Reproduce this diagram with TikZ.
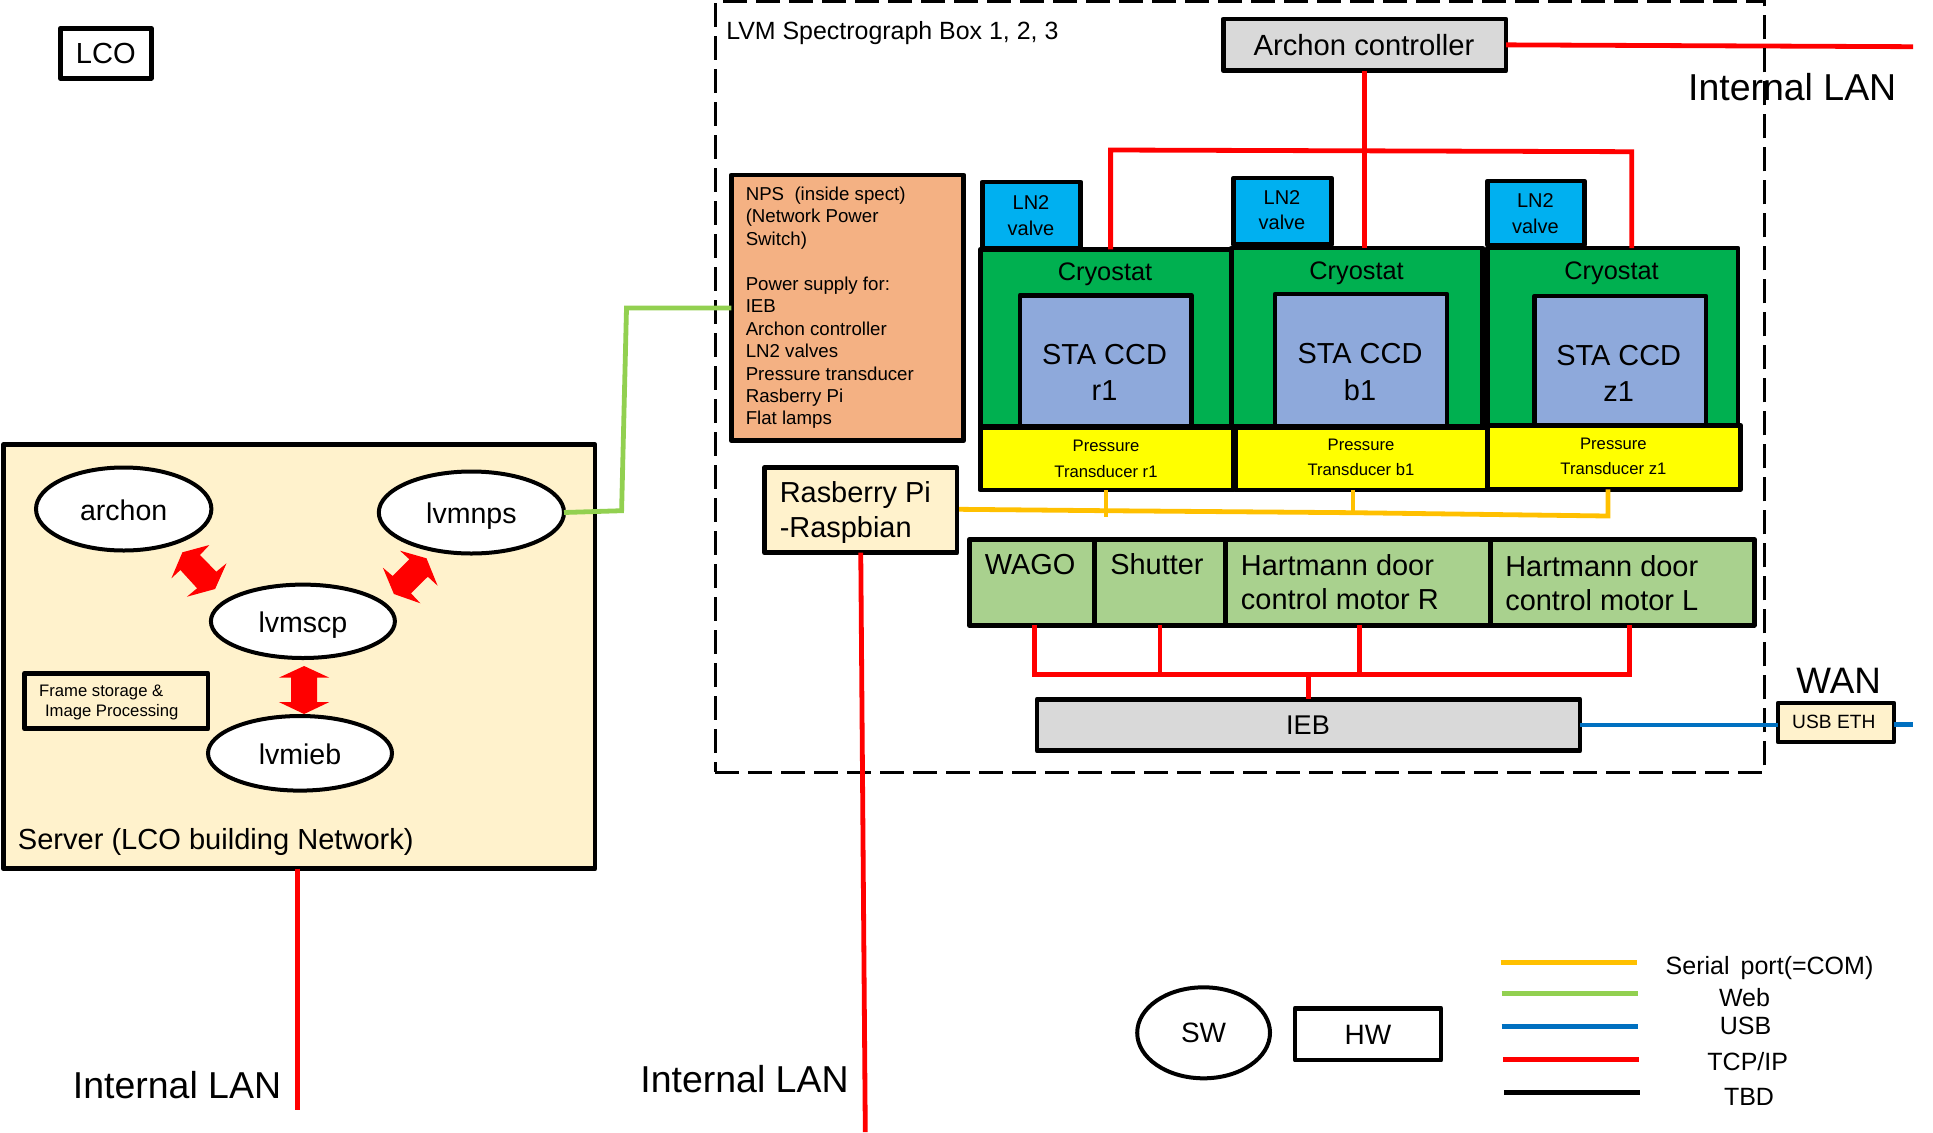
\documentclass[tikz,border=0pt]{standalone}
\usepackage{fontspec}
\setmainfont{Liberation Sans}
\usetikzlibrary{shapes.geometric}
\definecolor{peach}{HTML}{F4B183}
\definecolor{cream}{HTML}{FFF2CC}
\definecolor{lnblue}{HTML}{00B0F0}
\definecolor{cryogreen}{HTML}{00B050}
\definecolor{ccdblue}{HTML}{8EA9DB}
\definecolor{sagegreen}{HTML}{A9D18E}
\definecolor{ctlgrey}{HTML}{D9D9D9}
\definecolor{serialc}{HTML}{FFC000}
\definecolor{webc}{HTML}{92D050}
\definecolor{usbc}{HTML}{0070C0}
\definecolor{tcpc}{HTML}{FF0000}
\definecolor{ptyellow}{HTML}{FFFF00}
\tikzset{
  x=0.75pt,y=-0.75pt,
  hwbox/.style={draw=black,line width=3.6pt,line join=round,inner sep=0pt,outer sep=0pt},
  swell/.style={ellipse,draw=black,line width=3pt,fill=white,inner sep=0pt,outer sep=0pt},
  link/.style={line width=3.6pt},
  serial/.style={link,draw=serialc},
  web/.style={link,draw=webc},
  usb/.style={link,draw=usbc},
  tcp/.style={link,draw=tcpc},
  tbd/.style={link,draw=black},
  bigarrow/.style={fill=tcpc},
  ftxt/.style={node font=\fontsize{#1pt}{#1pt}\selectfont,inner sep=0pt,text height={0.72*#1pt},text depth=0pt},
  eltxt/.style={node font=\fontsize{#1pt}{#1pt}\selectfont,inner sep=0pt,text height={0.72*#1pt+1.5pt},text depth=0pt},
  mtxt/.style 2 args={node font=\fontsize{#1pt}{#2pt}\selectfont,inner sep=0pt},
}
\newcommand{\bx}[7][]{\node[hwbox,fill=#7,minimum width={(#4-#2)*0.75pt},minimum height={(#5-#3)*0.75pt},#1] (#6) at ({(#2+#4)/2},{(#3+#5)/2}) {};}
\begin{document}
\begin{tikzpicture}
\useasboundingbox (0,0) rectangle (1933,1132);
% LCO
\node[hwbox,fill=white,minimum width={91*0.75pt},minimum height={50*0.75pt},ftxt=21.8] (lco) at (105.8,53.3) {LCO};
% Server
\bx{3.3}{444.7}{595}{868.7}{server}{cream}
\node[ftxt=21.8,anchor=west] (servertxt) at (17.6,839.3) {Server (LCO building Network)};
\node[swell,minimum width={175.4*0.75pt},minimum height={83*0.75pt},eltxt=21.4] (archon) at (123.7,509) {archon};
\node[swell,minimum width={185.2*0.75pt},minimum height={82*0.75pt},eltxt=21.4] (lvmnps) at (471.4,512.5) {lvmnps};
\node[swell,minimum width={184*0.75pt},minimum height={73.4*0.75pt},eltxt=21.4] (lvmscp) at (302.9,621.3) {lvmscp};
\node[swell,minimum width={184*0.75pt},minimum height={74.6*0.75pt},eltxt=21.4] (lvmieb) at (300,753.3) {lvmieb};
\bx{24.5}{673.3}{208}{728.7}{frame}{cream}
\node[mtxt={12.5}{15},align=left,anchor=west] (frametxt) at (38.9,702.7) {Frame storage \&\\\hspace*{4.4pt}Image Processing};
% big red arrows
\fill[bigarrow] (209.4,545) -- (200,555) -- (216.3,571.7) -- (226.5,563.3) -- (215.1,589) -- (186.9,596.7) -- (197.1,588.3) -- (180.4,570) -- (171.4,578.3) -- (182.4,552.3) -- cycle;
\fill[bigarrow] (400,550.7) -- (426.5,558.3) -- (437.6,585.7) -- (427.8,576.7) -- (411,593.3) -- (420.4,603.3) -- (393.9,594) -- (382.9,567.7) -- (392.7,576) -- (409.4,559.3) -- cycle;
\fill[bigarrow] (304.1,666) -- (329.4,677.7) -- (317.1,677.7) -- (317.1,702) -- (329.4,702) -- (304.1,714) -- (278.8,702) -- (291,702) -- (291,677.7) -- (278.8,677.7) -- cycle;
% Archon controller
\bx{1223.3}{19}{1506}{70.7}{archonctl}{ctlgrey}
\node[ftxt=21.9] (archonctltxt) at (1364,44.5) {Archon controller};
\coordinate (lanC) at (1913,46.7);
\draw[tcp] (archonctl.east) -- (lanC);
% Spectrograph box
\node[draw=black,line width=2.4pt,dash pattern=on 18pt off 6.75pt,inner sep=0pt,outer sep=0pt,minimum width={(1764.4-715.3)*0.75pt},minimum height={(772.3-1.3)*0.75pt}] (lvmbox) at ({(715.3+1764.4)/2},{(1.3+772.3)/2}) {};
\node[ftxt=18.7,anchor=west] (lvmtxt) at (726,30.7) {LVM Spectrograph Box 1, 2, 3};
\node[ftxt=28.1,anchor=west] (lanCtxt) at (1687.8,87.5) {Internal LAN};
% NPS
\bx{731.4}{175}{963.7}{440.7}{nps}{peach}
\node[mtxt={14}{16.85},align=left,anchor=north west] (npstxt) at (745.5,186.5) {NPS\ \ (inside spect)\\(Network Power\\Switch)\\[16.85pt]Power supply for:\\IEB\\Archon controller\\LN2 valves\\Pressure transducer\\Rasberry Pi\\Flat lamps};
% Cryostats
\bx{980.4}{249.3}{1231.4}{426.7}{cryoA}{cryogreen}
\bx{1231.4}{248}{1482.8}{426.7}{cryoB}{cryogreen}
\bx{1487.7}{248}{1737.9}{425}{cryoC}{cryogreen}
\node[ftxt=19] (cryoAtxt) at (1105,271) {Cryostat};
\node[ftxt=19] (cryoBtxt) at (1356.5,270.7) {Cryostat};
\node[ftxt=19] (cryoCtxt) at (1611.5,270.7) {Cryostat};
% LN2 valves
\bx{982.4}{182}{1080.8}{248}{lnA}{lnblue}
\bx{1233.5}{178}{1331.4}{244.3}{lnB}{lnblue}
\bx{1487.7}{181}{1584.4}{245}{lnC}{lnblue}
\node[mtxt={15}{19},align=center] (lnAtxt) at (1031,215.5) {LN2\\valve};
\node[mtxt={15}{19},align=center] (lnBtxt) at (1282,210.4) {LN2\\valve};
\node[mtxt={15}{19},align=center] (lnCtxt) at (1535.4,213.7) {LN2\\valve};
% CCDs
\bx{1020}{295.3}{1191.4}{426.7}{ccdA}{ccdblue}
\bx{1275}{294}{1446.9}{426.7}{ccdB}{ccdblue}
\bx{1534.6}{296}{1706}{425}{ccdC}{ccdblue}
\node[mtxt={21.7}{27.3},align=center] (ccdAtxt) at (1104.5,372.5) {STA CCD\\r1};
\node[mtxt={21.7}{27.3},align=center] (ccdBtxt) at (1360,372.2) {STA CCD\\b1};
\node[mtxt={21.7}{27.3},align=center] (ccdCtxt) at (1618.7,373.2) {STA CCD\\z1};
% Pressure transducers
\bx{980.4}{427.7}{1233.5}{490}{ptA}{ptyellow}
\bx{1235.5}{427.7}{1487.7}{490}{ptB}{ptyellow}
\bx{1487.7}{425.3}{1740.7}{489.3}{ptC}{ptyellow}
\node[mtxt={12.5}{19.4},align=center] (ptAtxt) at (1106,458.5) {Pressure\\Transducer r1};
\node[mtxt={12.5}{19.4},align=center] (ptBtxt) at (1361,457.3) {Pressure\\Transducer b1};
\node[mtxt={12.5}{19.4},align=center] (ptCtxt) at (1613.4,456.3) {Pressure\\Transducer z1};
% Rasberry Pi
\bx{764.5}{467.5}{957}{552.7}{rpi}{cream}
\node[mtxt={21.7}{26.3},align=left,anchor=west] (rpitxt) at (779.5,512.5) {Rasberry Pi\\-Raspbian};
% Motors row
\bx{969.4}{539.3}{1094.3}{625.3}{wago}{sagegreen}
\bx{1094.3}{539.3}{1225.7}{625.3}{shutter}{sagegreen}
\bx{1225.7}{539.3}{1490.6}{625.3}{hartR}{sagegreen}
\bx{1490.6}{539.3}{1754.2}{625.3}{hartL}{sagegreen}
\node[ftxt=21.7,anchor=west] (wagotxt) at (984.5,564.5) {WAGO};
\node[ftxt=21.7,anchor=west] (shuttertxt) at (1110,564.5) {Shutter};
\node[mtxt={21.7}{25.9},align=left,anchor=west] (hartRtxt) at (1240.7,582) {Hartmann door\\control motor R};
\node[mtxt={21.7}{25.9},align=left,anchor=west] (hartLtxt) at (1505,583.3) {Hartmann door\\control motor L};
% IEB
\bx{1037}{699.3}{1580}{750.7}{ieb}{ctlgrey}
\node[ftxt=20.3] (iebtxt) at (1308,724.3) {IEB};
% USB ETH
\node[hwbox,fill=cream,minimum width={116*0.75pt},minimum height={39*0.75pt}] (usbeth) at (1836,722.5) {};
\node[ftxt=14.4] (usbethtxt) at (1833.8,721.5) {USB ETH};
\node[ftxt=27.6] (wantxt) at (1838.7,680) {WAN};
% connectors
\coordinate (wanE) at (1912.6,724.3);
\draw[usb] (ieb.east) -- (ieb.east -| usbeth.west);
\draw[usb] (usbeth.east |- wanE) -- (wanE);
% archon TCP tree
\coordinate (busL) at (1110.6,150);
\coordinate (busR) at (1631.8,151.7);
\draw[tcp] (archonctl.south) -- (archonctl.south |- cryoB.north);
\draw[tcp] (busL |- cryoA.north) -- (busL) -- (busR) -- (busR |- cryoC.north);
% IEB TCP tree
\coordinate (iebL) at (1034.3,674.3);
\coordinate (iebR) at (1629.7,674.3);
\coordinate (iebS) at (1160.4,674.3);
\coordinate (iebH) at (1359.6,674.3);
\coordinate (iebM) at (1308.6,674.3);
\draw[tcp] (iebL |- wago.south) -- (iebL) -- (iebR) -- (iebR |- hartL.south);
\draw[tcp] (shutter.south) -- (shutter.south |- iebS);
\draw[tcp] (iebH |- hartR.south) -- (iebH);
\draw[tcp] (iebM) -- (iebM |- ieb.north);
% server / raspberry LAN
\coordinate (lanA) at (297.7,1110);
\coordinate (lanB) at (865.3,1132);
\draw[tcp] (lanA |- server.south) -- (lanA);
\draw[tcp] (rpi.south) -- (lanB);
\node[ftxt=28.1] (lanAtxt) at (177,1085.3) {Internal LAN};
\node[ftxt=28.1] (lanBtxt) at (744.5,1078.7) {Internal LAN};
% web
\coordinate (webA) at (621.6,510.7);
\coordinate (webB) at (626.5,308);
\draw[web] (lvmnps.east) -- (webA) -- (webB) -- (webB -| nps.west);
% serial
\coordinate (serS) at (959.2,509.3);
\coordinate (serA) at (1106,510.7);
\coordinate (serB) at (1353,512.7);
\coordinate (serC) at (1608,516);
\draw[serial] (serS) -- (serA) -- (serB) -- (serC) -- (serC |- ptC.south);
\draw[serial] (serA |- ptA.south) -- (1106,516.7);
\draw[serial] (serB |- ptB.south) -- (serB);
% legend
\node[swell,minimum width={132.8*0.75pt},minimum height={91*0.75pt},ftxt=21] (sw) at (1203.6,1032.8) {SW};
\node[hwbox,fill=white,minimum width={146*0.75pt},minimum height={51.7*0.75pt},ftxt=21] (hw) at (1368,1034.2) {HW};
\coordinate (la1) at (1500.6,962.3); \coordinate (lb1) at (1636.7,962.3);
\coordinate (la2) at (1501.7,993.3); \coordinate (lb2) at (1637.7,993.3);
\coordinate (la3) at (1501.7,1026.3); \coordinate (lb3) at (1637.7,1026.3);
\coordinate (la4) at (1502.8,1059.3); \coordinate (lb4) at (1638.8,1059.3);
\coordinate (la5) at (1504.4,1092.3); \coordinate (lb5) at (1640.4,1092.3);
\draw[serial] (la1) -- (lb1);
\draw[web] (la2) -- (lb2);
\draw[usb] (la3) -- (lb3);
\draw[tcp] (la4) -- (lb4);
\draw[tbd] (la5) -- (lb5);
\node[ftxt=18.75] (l1) at (1769.5,965.7) {Serial\ \,port(=COM)};
\node[ftxt=18.75] (l2) at (1744.5,997.3) {Web};
\node[ftxt=18.75] (l3) at (1745.6,1025.7) {USB};
\node[ftxt=18.75] (l4) at (1747.7,1061.7) {TCP/IP};
\node[ftxt=18.75] (l5) at (1749,1096) {TBD};
\end{tikzpicture}
\end{document}
